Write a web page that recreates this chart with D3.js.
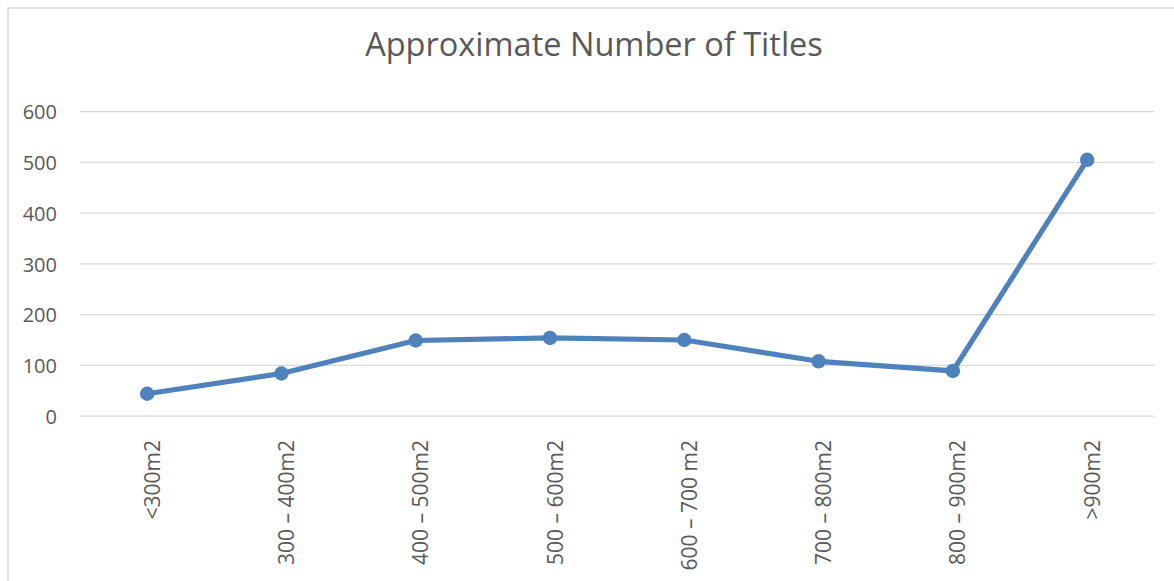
<!DOCTYPE html>
<html>
<head>
<meta charset="utf-8">
<script src="https://cdn.jsdelivr.net/npm/d3@7"></script>
<style>
  html, body { margin: 0; padding: 0; background: #fff; }
  svg { display: block; }
  text { font-family: "Open Sans", "Noto Sans", sans-serif; fill: #595959; }
</style>
</head>
<body>
<svg id="chart" width="1174" height="581"></svg>
<script>
const title = "Approximate Number of Titles";
const categories = ["<300m2", "300 \u2013 400m2", "400 \u2013 500m2", "500 \u2013 600m2", "600 \u2013 700 m2", "700 \u2013 800m2", "800 \u2013 900m2", ">900m2"];
const values = [44, 84, 149, 154, 150, 108, 89, 505];
const yTicks = [0, 100, 200, 300, 400, 500, 600];

const svg = d3.select("#chart");

// outer chart border
svg.append("rect")
  .attr("x", 8).attr("y", 8)
  .attr("width", 1300).attr("height", 700)
  .attr("fill", "none").attr("stroke", "#d9d9d9").attr("stroke-width", 1.6);

const plot = { left: 80, right: 1154.3, top: 111.6, bottom: 416.1 };

const x = d3.scaleBand().domain(categories).range([plot.left, plot.right]).padding(0);
const y = d3.scaleLinear().domain([0, 600]).range([plot.bottom, plot.top]);

// gridlines
svg.append("g").selectAll("line").data(yTicks).join("line")
  .attr("x1", plot.left).attr("x2", plot.right)
  .attr("y1", d => y(d)).attr("y2", d => y(d))
  .attr("stroke", "#d9d9d9").attr("stroke-width", 1.3);

// y axis labels
const yAxis = d3.axisLeft(y).tickValues(yTicks).tickSize(0).tickPadding(0);
const gy = svg.append("g").attr("transform", `translate(57,0)`).call(yAxis);
gy.select(".domain").remove();
gy.selectAll("text")
  .style("font-family", "'Open Sans', sans-serif")
  .style("font-size", "20px").attr("fill", "#595959").attr("dy", "0.36em");

// x axis labels (rotated)
const xAxis = d3.axisBottom(x).tickSize(0).tickPadding(0);
const gx = svg.append("g").attr("transform", `translate(0,${plot.bottom})`).call(xAxis);
gx.select(".domain").remove();
gx.selectAll(".tick text")
  .style("font-family", "'Open Sans', sans-serif")
  .style("font-size", "21px").attr("fill", "#595959")
  .attr("text-anchor", "end")
  .attr("transform", "translate(5,24) rotate(-90)")
  .attr("x", 0).attr("y", 0).attr("dy", "0.36em");

// line
const line = d3.line()
  .x((d, i) => x(categories[i]) + x.bandwidth() / 2)
  .y(d => y(d));

svg.append("path").datum(values)
  .attr("d", line)
  .attr("fill", "none").attr("stroke", "#4f81bd")
  .attr("stroke-width", 5.2).attr("stroke-linejoin", "round").attr("stroke-linecap", "round");

svg.append("g").selectAll("circle").data(values).join("circle")
  .attr("cx", (d, i) => x(categories[i]) + x.bandwidth() / 2)
  .attr("cy", d => y(d))
  .attr("r", 7.2)
  .attr("fill", "#4f81bd");

// title
svg.append("text")
  .attr("x", 594).attr("y", 56)
  .attr("text-anchor", "middle")
  .style("font-size", "32.5px").attr("fill", "#595959")
  .text(title);
</script>
</body>
</html>
